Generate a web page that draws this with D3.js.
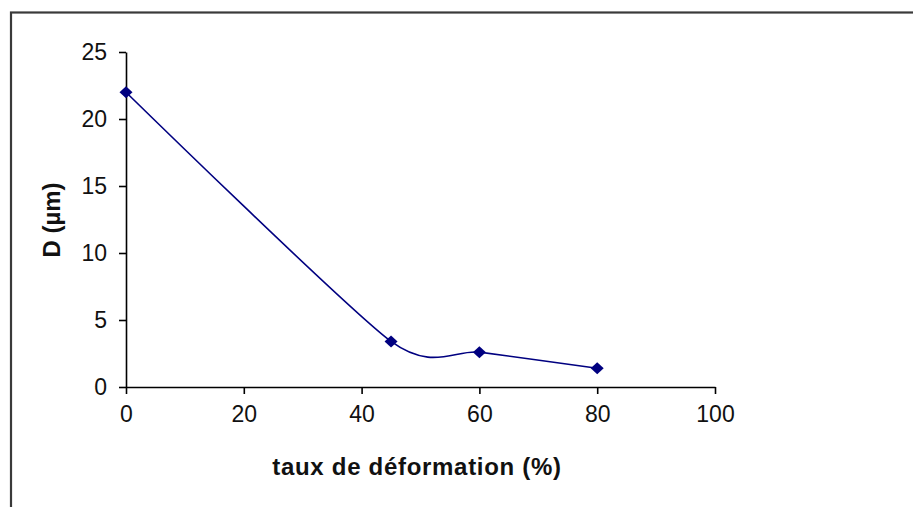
<!DOCTYPE html>
<html>
<head>
<meta charset="utf-8">
<script src="https://cdn.jsdelivr.net/npm/d3@7"></script>
<style>
  html, body { margin: 0; padding: 0; background: #fff; }
  svg { display: block; }
</style>
</head>
<body>
<svg id="chart" width="913" height="507"></svg>
<script>
// ---- data ----
const deformation = [0, 45, 60, 80];          // taux de déformation (%)
const grainSize   = [22, 3.4, 2.6, 1.4];      // D (µm)
const xTicks = [0, 20, 40, 60, 80, 100];
const yTicks = [0, 5, 10, 15, 20, 25];
const xTitle = "taux de déformation (%)";
const yTitle = "D (µm)";

const W = 913, H = 507;
const svg = d3.select("#chart");
const font = "'Liberation Sans', Arial, sans-serif";

// outer frame (right/bottom edges fall outside picture)
svg.append("rect")
  .attr("x", 11).attr("y", 12.5)
  .attr("width", 940).attr("height", 540)
  .attr("fill", "#fff")
  .attr("stroke", "#3a3a3a").attr("stroke-width", 2.2);

const x = d3.scaleLinear().domain([0, 100]).range([126, 715]);
const y = d3.scaleLinear().domain([0, 25]).range([387, 52]);

// axes
const gx = svg.append("g")
  .attr("transform", `translate(0,${y(0)})`)
  .call(d3.axisBottom(x).tickValues(xTicks).tickFormat(d3.format("d"))
        .tickSize(7).tickSizeOuter(0).tickPadding(12));
const gy = svg.append("g")
  .attr("transform", `translate(${x(0)},0)`)
  .call(d3.axisLeft(y).tickValues(yTicks).tickFormat(d3.format("d"))
        .tickSize(7).tickSizeOuter(0).tickPadding(12));

[gx, gy].forEach(g => {
  g.select(".domain").attr("stroke", "#000").attr("stroke-width", 1.6);
  g.selectAll(".tick line").attr("stroke", "#000").attr("stroke-width", 1.6);
  g.selectAll(".tick text")
    .attr("fill", "#111")
    .style("font-family", font)
    .style("font-size", "23px");
});

// series line (smoothed, Excel-like)
const pts = deformation.map((d, i) => [d, grainSize[i]]);
const line = d3.line()
  .x(d => x(d[0])).y(d => y(d[1]))
  .curve(d3.curveCardinal.tension(0.3));
svg.append("path")
  .datum(pts)
  .attr("d", line)
  .attr("fill", "none")
  .attr("stroke", "#000080")
  .attr("stroke-width", 1.6);

// diamond markers
const diamond = "M0,-6L6.5,0L0,6L-6.5,0Z";
svg.append("g").selectAll("path")
  .data(pts).join("path")
  .attr("d", diamond)
  .attr("transform", d => `translate(${x(d[0])},${y(d[1])})`)
  .attr("fill", "#000080");

// axis titles
svg.append("text")
  .attr("x", 417).attr("y", 475)
  .attr("text-anchor", "middle")
  .style("font-family", font)
  .style("font-weight", "bold")
  .style("font-size", "24px")
  .style("letter-spacing", "0.7px")
  .attr("fill", "#111")
  .text(xTitle);

svg.append("text")
  .attr("transform", "translate(60,220) rotate(-90)")
  .attr("text-anchor", "middle")
  .style("font-family", font)
  .style("font-weight", "bold")
  .style("font-size", "24px")
  .attr("fill", "#111")
  .text(yTitle);
</script>
</body>
</html>
